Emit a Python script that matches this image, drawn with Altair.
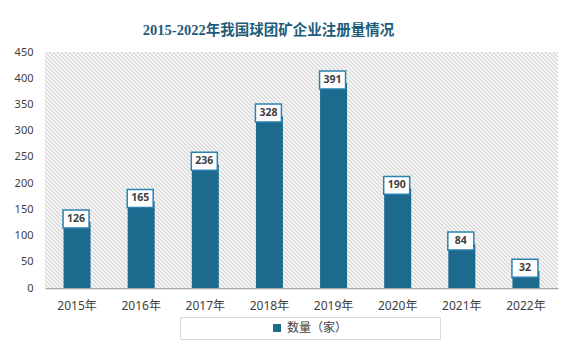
import altair as alt
import pandas as pd

# ---- data ----
years = ["2015年", "2016年", "2017年", "2018年", "2019年", "2020年", "2021年", "2022年"]
counts = [126, 165, 236, 328, 391, 190, 84, 32]
series_name = "数量（家）"
y_ticks = [0, 50, 100, 150, 200, 250, 300, 350, 400, 450]

df = pd.DataFrame({"year": years, "count": counts, "series": [series_name] * len(years)})

# ---- style ----
W, H = 513, 236
BAR = "#1C6A8E"
BOX_STROKE = "#2B82B0"
TXT = "#404040"
FONT = "Noto Sans, Noto Sans CJK SC"

# diagonal hatch (styling only) as a soft striped linear gradient
r = H / W
k = (1 + r) / (1 + r * r)
period = 4 / (W + H)
stops = []
t = 0.0
while t < 1.0:
    stops += [
        {"offset": t, "color": "#D6D6D6"},
        {"offset": min(t + period * 0.5, 1.0), "color": "#FFFFFF"},
    ]
    t += period
stops.append({"offset": 1.0, "color": "#D6D6D6"})
hatch = {"gradient": "linear", "x1": 0, "y1": 1, "x2": k, "y2": 1 - k * r, "stops": stops}

x_enc = alt.X(
    "year:N",
    sort=years,
    title=None,
    scale=alt.Scale(paddingInner=0.58, paddingOuter=0.29),
    axis=alt.Axis(
        labelAngle=0, labelColor=TXT, labelFontSize=12, labelFont=FONT,
        labelPadding=12, ticks=False, domainColor="#A6A6A6", domainWidth=1.5, grid=False,
    ),
)
y_enc = alt.Y(
    "count:Q",
    title=None,
    scale=alt.Scale(domain=[0, 450], nice=False),
    axis=alt.Axis(
        values=y_ticks, tickCount=10, labelColor=TXT, labelFontSize=11, labelFont=FONT,
        labelPadding=12, ticks=False, domain=False, grid=False, labelOverlap=False,
    ),
)

bg = alt.Chart(pd.DataFrame({"a": [0]})).mark_rect(fill=hatch).encode(
    x=alt.value(0), x2=alt.value("width"), y=alt.value(0), y2=alt.value("height")
)

bars = alt.Chart(df).mark_bar(size=27).encode(
    x=x_enc,
    y=y_enc,
    color=alt.Color(
        "series:N",
        scale=alt.Scale(range=[BAR]),
        legend=alt.Legend(
            title=series_name, titleOpacity=0, titleOrient="right", titlePadding=27,
            titleFont=FONT, titleFontSize=12, titleFontWeight="normal",
            orient="none", legendX=135, legendY=265,
            strokeColor="#D9D9D9", padding=5, symbolType="square", symbolSize=64,
            symbolStrokeWidth=0, symbolOffset=86, labelOffset=4,
            labelFont=FONT, labelFontSize=12, labelColor=TXT,
        ),
    ),
)

boxes = alt.Chart(df).mark_point(
    shape="M-1,-0.69L1,-0.69L1,0.69L-1,0.69Z", size=676, filled=True,
    fill="white", stroke=BOX_STROKE, strokeWidth=1.5, opacity=1, yOffset=-3, xOffset=-1,
).encode(x=x_enc, y=y_enc)

labels = alt.Chart(df).mark_text(
    font=FONT, fontSize=10.5, fontWeight="bold", color=TXT, yOffset=-3, dx=-1,
    baseline="middle",
).encode(x=x_enc, y=y_enc, text="count:Q")

chart = alt.layer(bg, bars, boxes, labels).properties(
    width=W,
    height=H,
    autosize=alt.AutoSizeParams(type="none"),
    padding={"left": 37, "top": 44, "right": 18, "bottom": 64},
    background="white",
    title=alt.TitleParams(
        "2015-2022年我国球团矿企业注册量情况",
        font="Liberation Serif, Noto Sans CJK SC", fontSize=14.5, fontWeight="bold",
        color="#1F5C7A", anchor="middle", dx=-33, offset=8,
    ),
).configure_view(stroke=None)

chart.save("out.html", embed_options={"renderer": "svg", "actions": False})
